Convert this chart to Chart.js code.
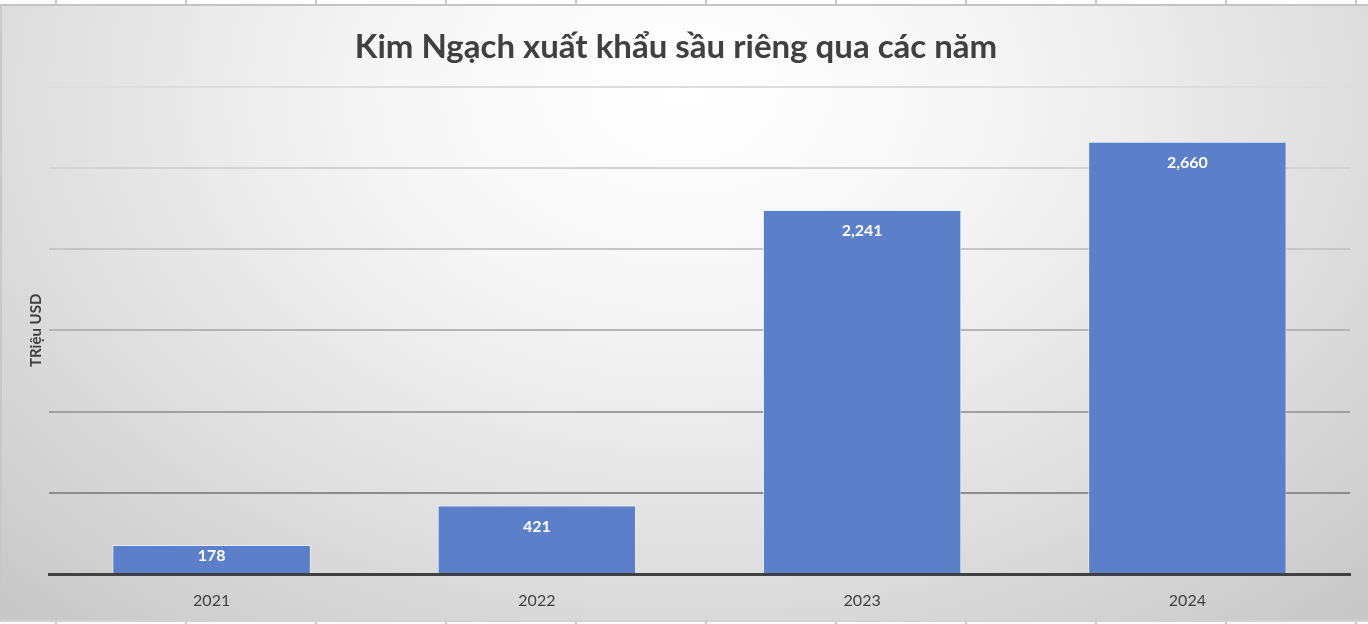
<!DOCTYPE html>
<html lang="vi">
<head>
    <meta charset="UTF-8">
    <title>Kim Ngạch xuất khẩu sầu riêng</title>
    <script src="https://cdn.jsdelivr.net/npm/chart.js@4.4.1/dist/chart.umd.min.js"></script>
    <style>
        html, body {
            margin: 0;
            padding: 0;
            width: 1368px;
            height: 624px;
            overflow: hidden;
            background-color: #ffffff;
            background-image: repeating-linear-gradient(to right, transparent 0, transparent 55px, #c8c8c8 55px, #c8c8c8 57px, transparent 57px, transparent 130px);
        }
        .Chart-Box {
            position: absolute;
            top: 4px;
            left: 0;
            width: 1366px;
            height: 614px;
            border-top: 2px solid #c4c4c4;
            border-left: 2px solid #c8c8c8;
            border-bottom: 2px solid #d2d2d2;
            background: radial-gradient(ellipse 72% 115% at 50% 14%, #ffffff 0%, #f6f6f6 30%, #e2e2e2 62%, #cfcfcf 90%, #c8c8c8 100%);
        }
    </style>
</head>
<body>
    <div class="Chart-Box">
        <canvas id="exportChart"></canvas>
    </div>
<script>
    var years = ['2021', '2022', '2023', '2024'];
    var exportValues = [178, 421, 2241, 2660];
    var yTicks = [0, 500, 1000, 1500, 2000, 2500, 3000];

    var chartTitle = 'Kim Ngạch xuất khẩu sầu riêng qua các năm';
    var yTitle = 'TRiệu USD';

    // gridlines look lighter toward the top of the plot
    var gridShades = ['rgba(0,0,0,0)', '#8c8c8c', '#a0a0a0', '#b4b4b4', '#c6c6c6', '#d4d4d4', '#dddddd'];

    var barLabels = {
        id: 'barLabels',
        afterDatasetsDraw(chart) {
            var ctx = chart.ctx;
            var meta = chart.getDatasetMeta(0);
            ctx.save();
            ctx.fillStyle = '#ffffff';
            ctx.font = 'bold 16px Lato';
            ctx.textAlign = 'center';
            ctx.textBaseline = 'middle';
            meta.data.forEach(function(bar, i) {
                // short bars: label sits nearer the top
                var off = Math.min(21, (bar.base - bar.y) / 2 - 3);
                ctx.fillText(exportValues[i].toLocaleString('en-US'), bar.x, bar.y + off);
            });
            ctx.restore();
        }
    };

    var ctx = document.getElementById('exportChart').getContext('2d');
    var exportChart = new Chart(ctx, {
        type: 'bar',
        data: {
            labels: years,
            datasets: [{
                label: yTitle,
                data: exportValues,
                backgroundColor: '#5b7fc8',
                borderColor: 'rgba(235,240,250,0.85)',
                borderWidth: 1,
                borderSkipped: 'bottom',
                barPercentage: 0.61,
                categoryPercentage: 1
            }]
        },
        options: {
            animation: false,
            responsive: true,
            maintainAspectRatio: false,
            layout: {
                padding: { left: 0, right: 18, top: 0, bottom: 0 }
            },
            scales: {
                x: {
                    z: 1,
                    grid: { display: false },
                    border: { display: true, color: '#404040', width: 3 },
                    ticks: {
                        color: '#404040',
                        font: { family: 'Lato', size: 16 },
                        padding: 9
                    },
                    afterFit(scale) { scale.height = 46; }
                },
                y: {
                    min: 0,
                    max: 3000,
                    afterBuildTicks(scale) {
                        scale.ticks = yTicks.map(v => ({ value: v }));
                    },
                    ticks: { display: false },
                    border: { display: false },
                    grid: {
                        drawTicks: false,
                        lineWidth: 2,
                        color: c => gridShades[yTicks.indexOf(c.tick.value)] || '#cccccc'
                    },
                    title: {
                        display: true,
                        text: yTitle,
                        color: '#404040',
                        font: { family: 'Lato', size: 15, weight: 'bold' },
                        padding: { top: 25, bottom: 0 }
                    },
                    afterFit(scale) { scale.width = 47; }
                }
            },
            plugins: {
                legend: { display: false },
                tooltip: { enabled: false },
                title: {
                    display: true,
                    text: chartTitle,
                    color: '#404040',
                    font: { family: 'Lato', size: 33, weight: 'bold' },
                    padding: { top: 22, bottom: 19 }
                }
            }
        },
        plugins: [barLabels]
    });
</script>
</body>
</html>
